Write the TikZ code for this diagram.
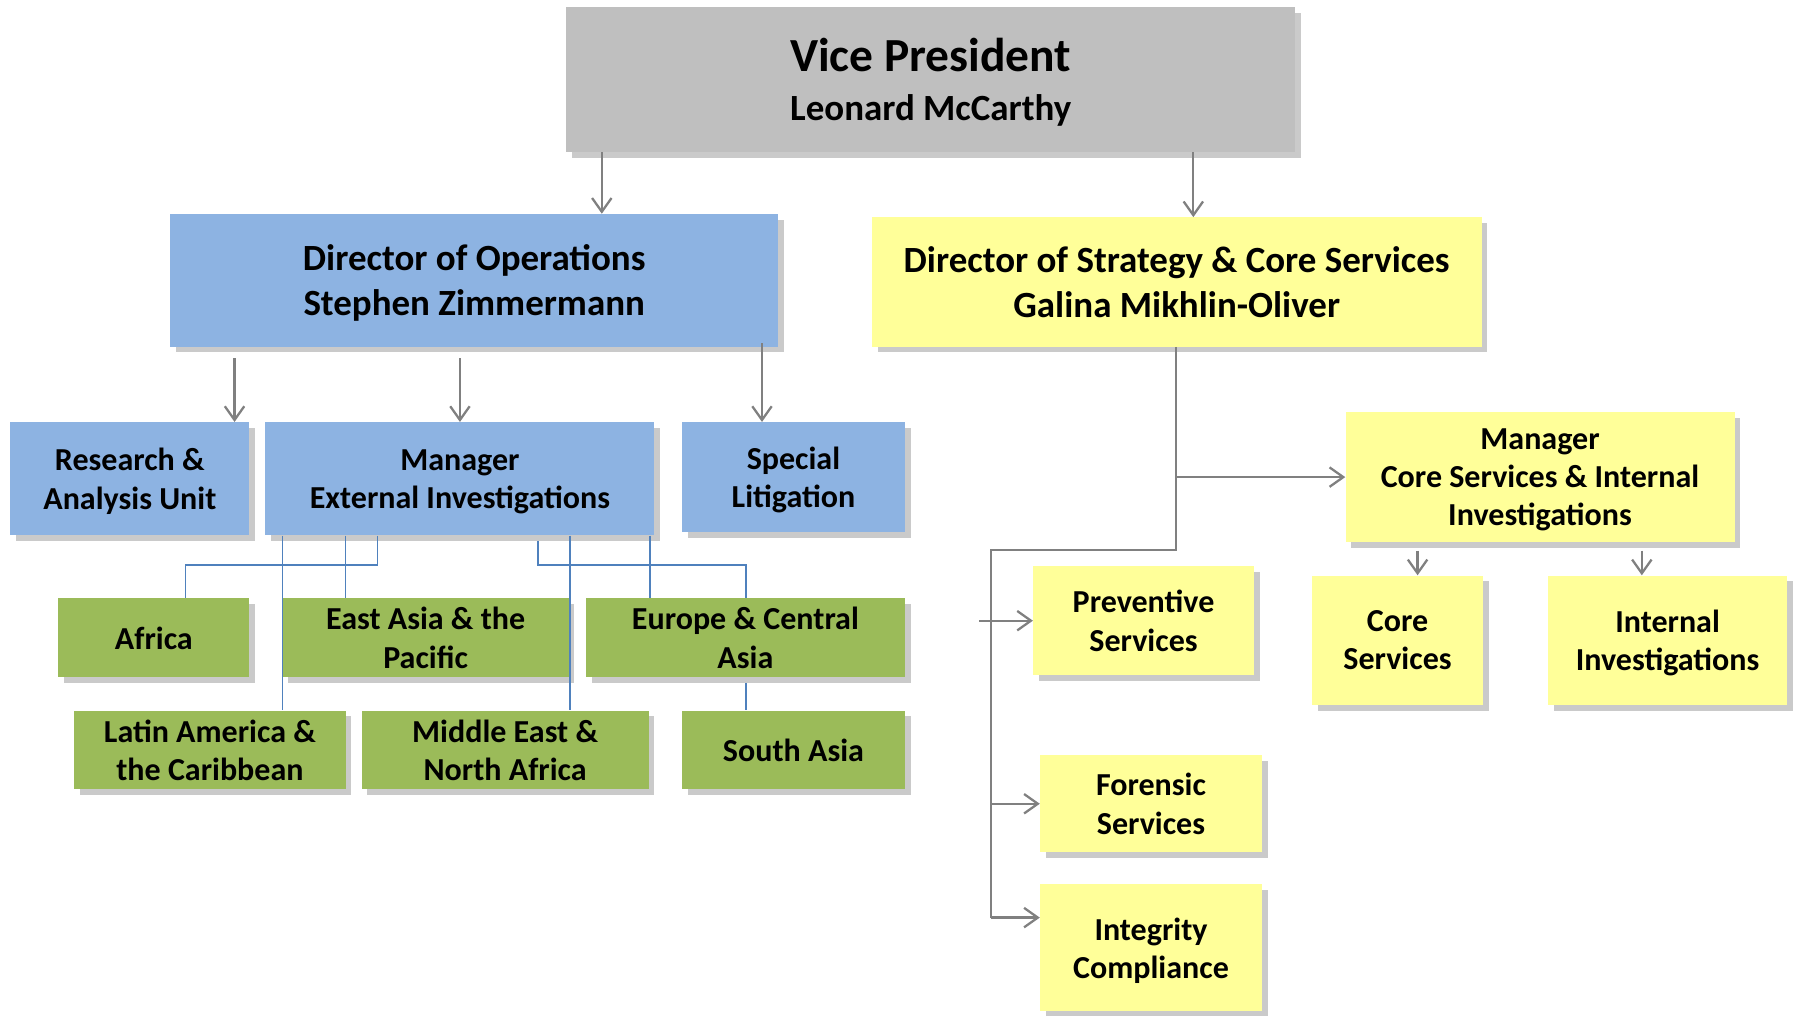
\documentclass[tikz,border=0pt]{standalone}
\usepackage{fontspec}
\setmainfont{Carlito}
\usetikzlibrary{shadows,arrows.meta}
\definecolor{vpgray}{HTML}{BFBFBF}
\definecolor{bluefill}{HTML}{8DB3E2}
\definecolor{yellowfill}{HTML}{FFFF99}
\definecolor{greenfill}{HTML}{9BBB59}
\definecolor{shadowc}{HTML}{CACACA}
\definecolor{connc}{HTML}{808080}
\definecolor{blinec}{HTML}{4F81BD}
\pgfdeclarelayer{background}
\pgfsetlayers{background,main}
\tikzset{
  box/.style={rectangle, inner sep=0pt, align=center, text=black, text depth=0pt,
    font=\bfseries\fontsize{28}{33.5}\selectfont,
    drop shadow={shadow xshift=5pt, shadow yshift=-5pt, fill=shadowc, opacity=1}},
  bluebox/.style={box, fill=bluefill},
  greenbox/.style={box, fill=greenfill},
  yellowbox/.style={box, fill=yellowfill},
  arr/.style={draw=connc, line width=2pt, -{Straight Barb[length=12pt,width=17pt,line width=2pt]}},
  gline/.style={draw=connc, line width=2pt},
  bline/.style={draw=blinec, line width=1.4pt},
}
\begin{document}
\begin{tikzpicture}[x=1pt,y=-1pt]
\useasboundingbox (0,0) rectangle (1568,888);

% Top
\node[box, fill=vpgray, minimum width=637pt, minimum height=127pt,
      font=\bfseries\fontsize{32.3}{39}\selectfont] (VP) at (813.5,69.5)
  {{\fontsize{41.5}{45}\selectfont Vice President}\\[4pt]Leonard McCarthy};

\node[bluebox, minimum width=531pt, minimum height=116pt,
      font=\bfseries\fontsize{32.3}{39}\selectfont] (DirOps) at (414.5,245)
  {Director of Operations\\Stephen Zimmermann};
\node[yellowbox, minimum width=533pt, minimum height=113pt,
      font=\bfseries\fontsize{32.3}{39}\selectfont] (DirStrat) at (1028.5,246.5)
  {Director of Strategy \& Core Services\\Galina Mikhlin-Oliver};

% Operations side
\node[bluebox, minimum width=209pt, minimum height=99pt] (Research) at (113.5,418.5) {Research \&\\Analysis Unit};
\node[bluebox, minimum width=340pt, minimum height=99pt] (MgrExt) at (402,418.5) {Manager\\External Investigations};
\node[bluebox, minimum width=195pt, minimum height=96pt] (Special) at (693.5,417) {Special\\Litigation};

\node[greenbox, minimum width=167pt, minimum height=69pt] (Africa) at (134.5,557.5) {Africa};
\node[greenbox, minimum width=250pt, minimum height=69pt] (EastAsia) at (372,557.5) {East Asia \& the\\Pacific};
\node[greenbox, minimum width=279pt, minimum height=69pt] (Europe) at (651.5,557.5) {Europe \& Central\\Asia};
\node[greenbox, minimum width=237pt, minimum height=69pt] (Latin) at (183.5,655.5) {Latin America \&\\the Caribbean};
\node[greenbox, minimum width=251pt, minimum height=69pt] (MidEast) at (441.5,655.5) {Middle East \&\\North Africa};
\node[greenbox, minimum width=195pt, minimum height=69pt] (SouthAsia) at (693.5,655.5) {South Asia};

% Strategy side
\node[yellowbox, minimum width=340pt, minimum height=114pt] (MgrCore) at (1346,417) {Manager\\Core Services \& Internal\\Investigations};
\node[yellowbox, minimum width=149pt, minimum height=113pt] (Core) at (1221.5,559.5) {Core\\Services};
\node[yellowbox, minimum width=209pt, minimum height=113pt] (Internal) at (1457.5,559.5) {Internal\\Investigations};
\node[yellowbox, minimum width=193pt, minimum height=95pt] (Prev) at (999.5,542.5) {Preventive\\Services};
\node[yellowbox, minimum width=194pt, minimum height=85pt] (Foren) at (1006,702.5) {Forensic\\Services};
\node[yellowbox, minimum width=194pt, minimum height=111pt] (Integ) at (1006,828.5) {Integrity\\Compliance};

% Gray arrows
\draw[arr] (526,0 |- VP.south) -- (526,0 |- DirOps.north);
\draw[arr] (1043,0 |- VP.south) -- (1043,0 |- DirStrat.north);
\draw[arr] (205,0 |- DirOps.south) ++(0,10) -- (205,0 |- Research.north);
\draw[arr] (402,0 |- DirOps.south) ++(0,10) -- (402,0 |- MgrExt.north);
\draw[arr] (666,0 |- DirOps.south) ++(0,-3) -- (666,0 |- Special.north);

\coordinate (J1) at (1028,481);
\coordinate (J2) at (866,481);
\coordinate (J3) at (866,802);
\draw[gline] (1028,0 |- DirStrat.south) -- (J1) -- (J2) -- (J3);
\draw[arr] (1028,0 |- MgrCore.west) -- (MgrCore.west);
\draw[arr] (856,0 |- Prev.west) -- (Prev.west);
\draw[arr] (866,0 |- Foren.west) -- (Foren.west);
\draw[arr] (J3) -- (Integ.west |- J3);
\draw[arr] (1239,0 |- MgrCore.south) ++(0,7) -- (1239,0 |- Core.north);
\draw[arr] (1435,0 |- MgrCore.south) ++(0,7) -- (1435,0 |- Internal.north);

% Blue lines
\draw[bline] (330,0 |- MgrExt.south) -- (330,494) -- (162,494) -- (162,0 |- Africa.north);
\draw[bline] (302,0 |- MgrExt.south) -- (302,0 |- EastAsia.north);
\draw[bline] (247,0 |- MgrExt.south) -- (247,0 |- Latin.north);
\draw[bline] (498,0 |- MgrExt.south) -- (498,0 |- MidEast.north);
\draw[bline] (568,0 |- MgrExt.south) -- (568,0 |- Europe.north);
\begin{pgfonlayer}{background}
\draw[bline] (470,0 |- MgrExt.south) -- (470,494) -- (652,494) -- (652,0 |- SouthAsia.north);
\end{pgfonlayer}
\end{tikzpicture}
\end{document}
